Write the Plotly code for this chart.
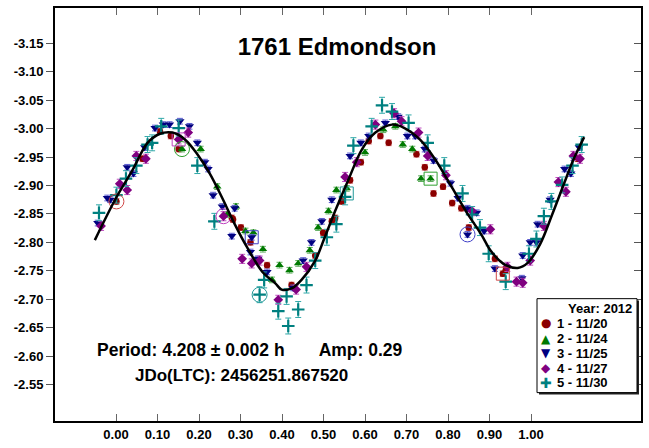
import plotly.graph_objects as go

# ---------------- data (phase, reduced magnitude) ----------------
fit_phase = [-0.051, 0.0, 0.039, 0.076, 0.106, 0.136, 0.166, 0.196, 0.226, 0.256, 0.286, 0.316, 0.354,
             0.384, 0.399, 0.423, 0.447, 0.480, 0.503, 0.528, 0.561, 0.593, 0.625, 0.665, 0.695, 0.732,
             0.768, 0.806, 0.843, 0.880, 0.902, 0.924, 0.939, 0.968, 0.992, 1.022, 1.051, 1.081, 1.099,
             1.116, 1.128]
fit_mag = [-2.804, -2.878, -2.926, -2.975, -2.991, -2.993, -2.981, -2.955, -2.921, -2.878, -2.832, -2.791, -2.747,
           -2.728, -2.717, -2.719, -2.734, -2.768, -2.809, -2.855, -2.912, -2.964, -2.993, -3.007, -3.001, -2.981,
           -2.947, -2.901, -2.855, -2.814, -2.786, -2.768, -2.760, -2.755, -2.764, -2.797, -2.849, -2.906, -2.940,
           -2.967, -2.985]

s1_phase = [0.001, 0.064, 0.106, 0.132, 0.151, 0.279, 0.282, 0.301, 0.324, 0.364, 0.423, 0.480, 0.499, 0.520,
            0.528, 0.544, 0.564, 0.590, 0.609, 0.637, 0.657, 0.724, 0.744, 0.765, 0.788, 0.810, 0.832, 0.850,
            0.913, 0.932, 0.939, 1.112]
s1_mag = [-2.872, -2.947, -2.995, -2.987, -2.964, -2.843, -2.840, -2.826, -2.800, -2.760, -2.725, -2.777, -2.817,
          -2.837, -2.843, -2.872, -2.909, -2.941, -2.978, -2.987, -2.975, -2.955, -2.932, -2.886, -2.898, -2.869,
          -2.860, -2.826, -2.771, -2.745, -2.751, -2.947]

s2_phase = [0.159, 0.204, 0.244, 0.267, 0.289, 0.312, 0.331, 0.354, 0.376, 0.394, 0.418, 0.439, 0.467, 0.487,
            0.512, 0.531, 0.556, 0.600, 0.644, 0.673, 0.691, 0.714, 0.735, 0.758]
s2_mag = [-2.964, -2.964, -2.898, -2.849, -2.863, -2.820, -2.817, -2.788, -2.734, -2.760, -2.751, -2.763, -2.786,
          -2.826, -2.855, -2.892, -2.895, -2.958, -2.998, -3.004, -2.972, -2.964, -2.912, -2.912]

s3_phase = [-0.044, -0.021, -0.014, 0.027, 0.042, 0.069, 0.094, 0.114, 0.129, 0.154, 0.177, 0.196, 0.214, 0.222,
            0.234, 0.256, 0.279, 0.286, 0.324, 0.327, 0.342, 0.364, 0.427, 0.451, 0.471, 0.496, 0.520, 0.564,
            0.590, 0.609, 0.649, 0.680, 0.702, 0.721, 0.744, 0.765, 0.806, 0.824, 0.847, 0.869, 0.847, 0.887,
            0.913, 0.978, 0.980, 0.998, 1.013, 1.016, 1.046, 1.081, 1.096, 1.116]
s3_mag = [-2.834, -2.878, -2.875, -2.932, -2.921, -2.967, -3.001, -3.007, -3.007, -3.013, -3.004, -2.975, -2.941,
          -2.929, -2.883, -2.863, -2.811, -2.860, -2.783, -2.809, -2.771, -2.748, -2.720, -2.768, -2.800, -2.837,
          -2.875, -2.952, -2.975, -2.987, -3.010, -3.021, -2.987, -2.987, -2.964, -2.944, -2.904, -2.878, -2.860,
          -2.852, -2.814, -2.820, -2.754, -2.737, -2.777, -2.800, -2.800, -2.832, -2.875, -2.929, -2.921, -2.967]

s4_phase = [-0.036, 0.009, 0.027, 0.049, 0.072, 0.151, 0.174, 0.259, 0.304, 0.327, 0.346, 0.391, 0.434, 0.459,
            0.552, 0.580, 0.625, 0.670, 0.688, 0.729, 0.751, 0.795, 0.858, 0.902, 0.943, 0.965, 0.980, 0.998,
            1.031, 1.066, 1.084, 1.102, 1.118]
s4_mag = [-2.829, -2.903, -2.892, -2.952, -2.947, -2.981, -2.993, -2.846, -2.771, -2.763, -2.768, -2.699, -2.717,
          -2.757, -2.915, -2.941, -3.007, -3.027, -3.013, -2.993, -2.952, -2.918, -2.855, -2.823, -2.757, -2.731,
          -2.729, -2.768, -2.829, -2.906, -2.889, -2.952, -2.947]

s5_phase = [-0.041, 0.001, 0.024, 0.049, 0.076, 0.087, 0.109, 0.151, 0.196, 0.237, 0.357, 0.346, 0.391, 0.411,
            0.415, 0.439, 0.459, 0.480, 0.508, 0.531, 0.552, 0.572, 0.616, 0.641, 0.665, 0.705, 0.751, 0.791,
            0.835, 0.858, 0.877, 0.898, 0.939, 0.995, 1.013, 1.031, 1.049, 1.075, 1.100, 1.122]
s5_mag = [-2.852, -2.883, -2.912, -2.935, -2.972, -2.975, -3.004, -3.001, -2.935, -2.837, -2.734, -2.708, -2.679,
          -2.705, -2.653, -2.682, -2.725, -2.768, -2.809, -2.832, -2.880, -2.970, -3.004, -3.041, -3.030, -3.010,
          -2.975, -2.935, -2.886, -2.849, -2.826, -2.780, -2.731, -2.780, -2.806, -2.846, -2.872, -2.901, -2.935,
          -2.972]

session_err = [0.005, 0.005, 0.005, 0.008, 0.014]
session_names = ["1 - 11/20", "2 - 11/24", "3 - 11/25", "4 - 11/27", "5 - 11/30"]
legend_title = "Year: 2012"

# first/last point markers of each session
hl_phase = [0.001, 0.159, 0.259, 0.346, 0.847, 0.151, 0.327, 0.556, 0.758, 0.932]
hl_mag = [-2.872, -2.964, -2.846, -2.708, -2.814, -2.981, -2.809, -2.886, -2.912, -2.745]
hl_session = [0, 1, 3, 4, 2, 3, 2, 4, 1, 0]
hl_kind = ["circle", "circle", "circle", "circle", "circle", "square", "square", "square", "square", "square"]

x_ticks = [0.0, 0.1, 0.2, 0.3, 0.4, 0.5, 0.6, 0.7, 0.8, 0.9, 1.0]
y_ticks = [-3.15, -3.10, -3.05, -3.00, -2.95, -2.90, -2.85, -2.80, -2.75, -2.70, -2.65, -2.60, -2.55]

# ---------------- styles ----------------
mk_color = ["#8b0000", "#007a00", "#000080", "#800080", "#008080"]
err_color = ["#d06a6a", "#5fae5f", "#5a5ad0", "#c050c0", "#30a8a8"]
hl_color = ["#d04848", "#30a030", "#4040c8", "#c040c0", "#209898"]
symbols = ["circle", "triangle-up", "triangle-down", "diamond", "cross-thin"]
sizes = [6.5, 7.5, 8, 7.5, 9]
legend_glyph = ["\u25CF", "\u25B2", "\u25BC", "\u25C6", "\u271A"]

FONT = "Liberation Sans, Arial, sans-serif"
phases = [s1_phase, s2_phase, s3_phase, s4_phase, s5_phase]
mags = [s1_mag, s2_mag, s3_mag, s4_mag, s5_mag]

# plot-area geometry (pixels) used to place paper-referenced decorations
L, R, T, B = 55, 641, 6, 428
W, H = R - L, B - T


def px(x):
    return (x - L) / W


def py(y):
    return (B - y) / H


fig = go.Figure()

for i in range(5):
    marker = dict(symbol=symbols[i], size=sizes[i], color=mk_color[i])
    if symbols[i] == "cross-thin":
        marker["line"] = dict(color=mk_color[i], width=2.2)
    else:
        marker["line"] = dict(width=0)
    fig.add_trace(go.Scatter(
        x=phases[i], y=mags[i], mode="markers", marker=marker, showlegend=False, name=session_names[i],
        error_y=dict(type="constant", value=session_err[i], color=err_color[i], thickness=1, width=3),
    ))

for i in range(len(hl_phase)):
    s = hl_session[i]
    fig.add_trace(go.Scatter(
        x=[hl_phase[i]], y=[hl_mag[i]], mode="markers", showlegend=False,
        marker=dict(symbol=hl_kind[i] + "-open", size=15 if hl_kind[i] == "circle" else 13,
                    color=hl_color[s], line=dict(width=1, color=hl_color[s])),
    ))

fig.add_trace(go.Scatter(x=fit_phase, y=fit_mag, mode="lines", line=dict(color="black", width=2.5, shape="spline"),
                         showlegend=False, hoverinfo="skip"))

# invisible trace to activate the right-side tick axis
fig.add_trace(go.Scatter(x=[None], y=[None], yaxis="y2", showlegend=False))

# ---- legend box (drawn as shapes + text) ----
lx0, lx1, ly0, ly1 = 537, 637, 303, 399
shapes = [
    dict(type="rect", xref="paper", yref="paper", x0=px(lx0 + 2), x1=px(lx1 + 2), y0=py(ly1 + 2), y1=py(ly0 + 2),
         fillcolor="#222", line=dict(width=0), layer="above"),
    dict(type="rect", xref="paper", yref="paper", x0=px(lx0), x1=px(lx1), y0=py(ly1), y1=py(ly0),
         fillcolor="white", line=dict(color="black", width=1), layer="above"),
]
annotations = [
    dict(text="<b>" + legend_title + "</b>", xref="paper", yref="paper", x=px(634), y=py(313),
         xanchor="right", yanchor="middle", showarrow=False, font=dict(size=13, family=FONT, color="black")),
]
row_y = [328, 344, 359, 374, 389]
for i in range(5):
    annotations.append(dict(text=legend_glyph[i], xref="paper", yref="paper", x=px(546), y=py(row_y[i]),
                            xanchor="center", yanchor="middle", showarrow=False,
                            font=dict(size=12 if i != 4 else 14, family="DejaVu Sans", color=mk_color[i])))
    annotations.append(dict(text="<b>" + session_names[i] + "</b>", xref="paper", yref="paper", x=px(555),
                            y=py(row_y[i]), xanchor="left", yanchor="middle", showarrow=False,
                            font=dict(size=13, family=FONT, color="black")))

annotations += [
    dict(text="<b>Period: 4.208 ± 0.002 h" + "\u00a0" * 7 + "Amp: 0.29</b>", xref="paper", yref="paper",
         x=px(95), y=py(355), xanchor="left", yanchor="middle", showarrow=False,
         font=dict(size=17.5, family=FONT, color="black")),
    dict(text="<b>JDo(LTC): 2456251.867520</b>", xref="paper", yref="paper",
         x=px(241), y=py(382), xanchor="center", yanchor="middle", showarrow=False,
         font=dict(size=17, family=FONT, color="black")),
]

fig.update_layout(
    width=649, height=448,
    margin=dict(l=L, r=649 - R, t=T, b=448 - B),
    paper_bgcolor="white", plot_bgcolor="white",
    font=dict(family=FONT, color="black"),
    showlegend=False,
    title=dict(text="<b>1761 Edmondson</b>", x=px(337), xref="paper", y=py(45), yref="paper",
               xanchor="center", yanchor="middle", font=dict(size=24, family=FONT, color="black")),
    xaxis=dict(range=[-0.147, 1.265], tickvals=x_ticks, ticktext=["<b>%.2f</b>" % v for v in x_ticks],
               ticks="inside", ticklen=7, tickcolor="#666", tickwidth=1,
               showline=True, linecolor="black", linewidth=2, mirror="ticks",
               showgrid=False, zeroline=False, tickfont=dict(size=13, family=FONT)),
    yaxis=dict(range=[-2.486, -3.212], tickvals=y_ticks, ticktext=["<b>%.2f</b>" % v for v in y_ticks],
               ticks="outside", ticklen=7, tickcolor="#555", tickwidth=1,
               showline=True, linecolor="black", linewidth=2, mirror=True,
               showgrid=False, zeroline=False, tickfont=dict(size=13, family=FONT)),
    yaxis2=dict(range=[-2.486, -3.212], tickvals=y_ticks, overlaying="y", side="right",
                ticks="inside", ticklen=7, tickcolor="#555", showticklabels=False,
                showgrid=False, zeroline=False, showline=False),
    shapes=shapes,
    annotations=annotations,
)

fig.write_html("out.html", config={"displayModeBar": False},
               post_script="document.body.style.margin='0';document.body.style.overflow='hidden';")
